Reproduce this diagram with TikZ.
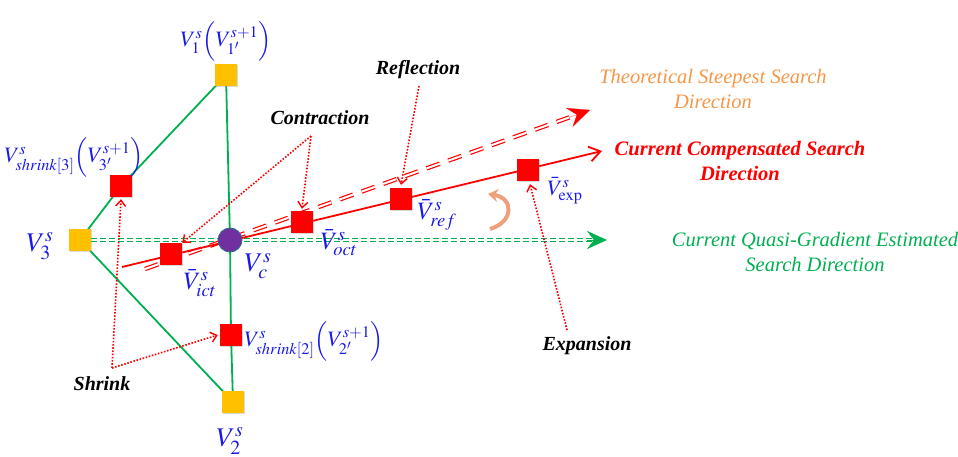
\documentclass[tikz,border=0pt]{standalone}
\usepackage{mathptmx}
\usepackage{fontspec}
\setmainfont{Liberation Serif}
\usetikzlibrary{arrows.meta,calc,backgrounds,shadows}
\definecolor{vblue}{RGB}{25,25,235}
\definecolor{vgreen}{RGB}{0,176,80}
\definecolor{vred}{RGB}{255,0,0}
\definecolor{vgold}{RGB}{255,192,0}
\definecolor{vpurple}{RGB}{112,48,160}
\definecolor{vteal}{RGB}{40,110,140}
\definecolor{vorange}{RGB}{247,150,70}
\definecolor{vpeach}{RGB}{238,160,125}
\begin{document}
\begin{tikzpicture}[x=1pt,y=-1pt,
  shadowed/.style={drop shadow={opacity=0.3,shadow xshift=1.2pt,shadow yshift=-1.2pt}},
  goldsq/.style={fill=vgold,minimum size=22pt,inner sep=0pt,shadowed},
  redsq/.style={fill=vred,minimum size=22pt,inner sep=0pt,shadowed},
  centroid/.style={circle,fill=vpurple,draw=vteal,line width=0.8pt,minimum size=24pt,inner sep=0pt},
  vlabel/.style={text=vblue,inner sep=0pt,font=\fontsize{22}{24}\selectfont},
  vbar/.style={text=vblue,inner sep=0pt,font=\fontsize{25}{27}\selectfont},
  vbig/.style={text=vblue,inner sep=0pt,font=\fontsize{27}{29}\selectfont},
  steptext/.style={font=\fontsize{20}{22}\selectfont\bfseries\itshape,inner sep=0pt},
  dirtext/.style={font=\fontsize{20.5}{25}\selectfont\itshape,align=center,inner sep=0pt},
  simplexedge/.style={vgreen,line width=1.8pt},
  reddouble/.style={vred,double=white,double distance=2pt,line width=1.2pt,dash pattern=on 14pt off 9pt},
  greendouble/.style={vgreen,double=white,double distance=2pt,line width=1.1pt,dash pattern=on 6pt off 3pt},
  note/.style={vred,line width=1.6pt,dash pattern=on 1.6pt off 1.6pt,-{Straight Barb[length=6pt,width=10pt,line width=1.4pt]}},
]
\useasboundingbox (0,0) rectangle (958,457);

% vertices
\node[goldsq] (V1) at (226,75) {};
\node[goldsq] (V3) at (80,240) {};
\node[goldsq] (V2) at (233,402) {};
\node[centroid] (VC) at (230,240) {};
\node[redsq] (S3) at (121,186) {};
\node[redsq] (S2) at (231,335) {};
\node[redsq] (ICT) at (171,254) {};
\node[redsq] (OCT) at (302,222) {};
\node[redsq] (REF) at (401,199) {};
\node[redsq] (EXP) at (528,170) {};

\coordinate (rs) at (122,267);
\coordinate (re) at (602,151);
\coordinate (rds) at (145,269);
\coordinate (rdt) at (590,110);
\coordinate (gt) at (607,240);
\coordinate (cf) at (311,136);
\coordinate (rf) at (419,86);
\coordinate (ef) at (567,330);
\coordinate (sf) at (112,368);

\begin{scope}[on background layer]
  \draw[simplexedge] (V1.center) -- (S3.center) -- (V3.center) -- (V2.center) -- (S2.center) -- (VC.center) -- (V1.center);
  \draw[greendouble] (V3.east) -- ($(V3.east)!0.975!(gt)$);
  \draw[reddouble] (rds) -- ($(rdt)!22pt!(rds)$);
  \draw[vred,line width=1.8pt,-{Straight Barb[length=11pt,width=15pt,line width=1.8pt]}] (rs) -- (re);
\end{scope}
\draw[vgreen,line width=0.2pt,-{Stealth[length=20pt,width=18pt,inset=7pt]}] ($(gt)!20pt!(V3.east)$) -- (gt);
\draw[vred,line width=0.2pt,-{Stealth[length=22pt,width=20pt,inset=8pt]}] ($(rdt)!22pt!(rds)$) -- (rdt);

% annotation arrows
\draw[note] (cf) -- (ICT.north east);
\draw[note] (cf) -- ($(OCT.north)+(0,-2)$);
\draw[note] (rf) -- ($(REF.north)+(0,-3)$);
\draw[note] (ef) -- ($(EXP.south)+(2,3)$);
\draw[note] (sf) -- ($(S3.south)+(0,2)$);
\draw[note] (sf) -- ($(S2.west)+(-2,0)$);

% rotation arrow
\draw[vpeach,line width=4pt,-{Stealth[length=10pt,width=13pt]}] (490,229) .. controls (514,222) and (514,198) .. (488,194);

% vertex labels
\node[vlabel] (LV1) at (226,41) {$V_{1}^{s}\Bigl(V_{1'}^{s+1}\Bigr)$};
\node[vlabel] (LS3) at (74,157) {$V_{shrink[3]}^{s}\Bigl(V_{3'}^{s+1}\Bigr)$};
\node[vbig] (LV3) at (40,246) {$V_{3}^{s}$};
\node[vbig] (LVC) at (258,266) {$V_{c}^{s}$};
\node[vbar] (LICT) at (200,283) {$\bar{V}_{ict}^{s}$};
\node[vbar] (LOCT) at (339,243) {$\bar{V}_{oct}^{s}$};
\node[vbar] (LREF) at (437,215) {$\bar{V}_{ref}^{s}$};
\node[vlabel] (LEXP) at (565,191) {$\bar{V}_{\exp}^{s}$};
\node[vlabel] (LS2) at (314,341) {$V_{shrink[2]}^{s}\Bigl(V_{2'}^{s+1}\Bigr)$};
\node[vbig] (LV2) at (230,441) {$V_{2}^{s}$};

% step labels
\node[steptext] (TC) at (320,118) {Contraction};
\node[steptext] (TR) at (418,70) {Reflection};
\node[steptext] (TS) at (102,384) {Shrink};
\node[steptext] (TE) at (587,346) {Expansion};

% direction labels
\node[dirtext,text=vorange] (DT) at (713,89) {Theoretical Steepest Search\\Direction};
\node[dirtext,text=vred,font=\fontsize{20.5}{25}\selectfont\bfseries\itshape] (DC) at (740,161) {Current Compensated Search\\Direction};
\node[dirtext,text=vgreen] (DG) at (815,252) {Current Quasi-Gradient Estimated\\Search Direction};
\end{tikzpicture}
\end{document}
